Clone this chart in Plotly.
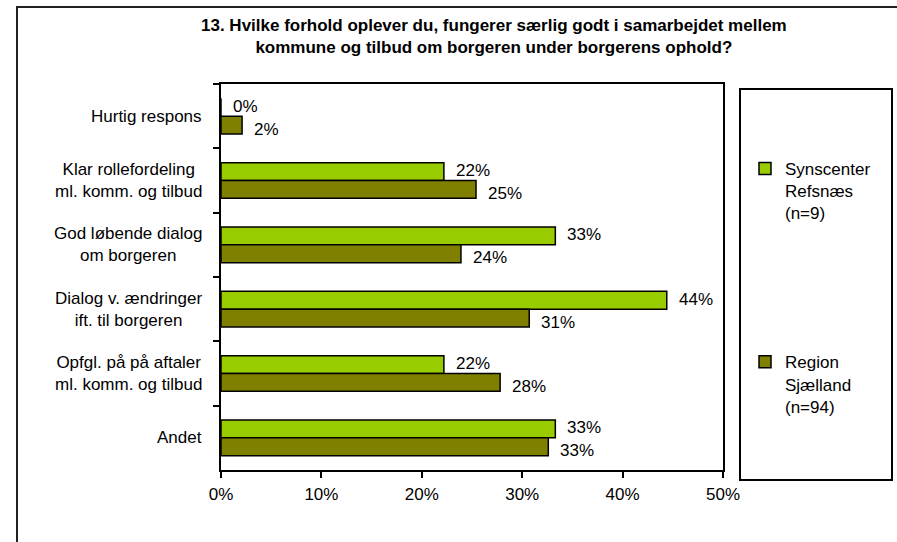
import plotly.graph_objects as go

categories = [
    "Hurtig respons",
    "Klar rollefordeling<br>ml. komm. og tilbud",
    "God løbende dialog<br>om borgeren",
    "Dialog v. ændringer<br>ift. til borgeren",
    "Opfgl. på på aftaler<br>ml. komm. og tilbud",
    "Andet",
]
synscenter = [0.0, 22.2, 33.3, 44.4, 22.2, 33.3]
region = [2.1, 25.4, 23.9, 30.7, 27.8, 32.6]
series_names = ["Synscenter<br>Refsnæs<br>(n=9)", "Region<br>Sjælland<br>(n=94)"]
x_ticks = [0, 10, 20, 30, 40, 50]
title_text = ("13. Hvilke forhold oplever du, fungerer særlig godt i samarbejdet mellem<br>"
              "kommune og tilbud om borgeren under borgerens ophold?")

FONT = "Liberation Sans, Arial, sans-serif"
GREEN = "#99CC00"
OLIVE = "#808000"

W, H = 897, 542
PL, PT, PW, PH = 221, 84, 502, 386  # plot area in pixels


def px_x(px):
    return (px - PL) / PW


def px_y(py):
    return (PT + PH - py) / PH


fig = go.Figure()
for name, vals, col, grp in [(series_names[0], synscenter, GREEN, "a"),
                             (series_names[1], region, OLIVE, "b")]:
    fig.add_trace(go.Bar(
        y=categories, x=vals, orientation="h", name=name,
        marker=dict(color=col, line=dict(color="black", width=1.5)),
        legendgroup=grp, hoverinfo="skip",
    ))

annotations = [dict(
    x=px_x(494), xref="paper", y=px_y(36), yref="paper",
    text=f"<b>{title_text}</b>", showarrow=False,
    xanchor="center", yanchor="middle", align="center",
    font=dict(family=FONT, size=17, color="black"),
)]
for c in categories:
    annotations.append(dict(
        x=px_x(204), xref="paper", y=c, yref="y", text=c, showarrow=False,
        xanchor="right", yanchor="middle", align="center",
        font=dict(family=FONT, size=17, color="black"),
    ))
for vals, ysh in [(synscenter, 10), (region, -13)]:
    for c, v in zip(categories, vals):
        annotations.append(dict(
            x=v, xref="x", y=c, yref="y", text=f"{round(v):.0f}%",
            showarrow=False, xanchor="left", yanchor="middle",
            xshift=10, yshift=ysh,
            font=dict(family=FONT, size=17, color="black"),
        ))

fig.update_layout(
    width=W, height=H,
    margin=dict(l=PL, r=W - (PL + PW), t=PT, b=H - (PT + PH)),
    paper_bgcolor="white", plot_bgcolor="white",
    barmode="group", bargap=0.446, bargroupgap=0,
    font=dict(family=FONT, size=17, color="black"),
    xaxis=dict(
        range=[0, 50], tickvals=x_ticks, ticktext=[f"{t}%" for t in x_ticks],
        showgrid=False, zeroline=False,
        showline=True, linecolor="black", linewidth=2, mirror=True,
        ticks="outside", ticklen=6, tickcolor="black", tickwidth=2,
        ticklabelstandoff=2,
        tickfont=dict(family=FONT, size=17, color="black"),
    ),
    yaxis=dict(
        categoryorder="array", categoryarray=categories,
        autorange="reversed", showticklabels=False,
        showgrid=False, zeroline=False,
        showline=True, linecolor="black", linewidth=2, mirror=True,
        ticks="outside", tickson="boundaries", ticklen=6,
        tickcolor="black", tickwidth=2,
    ),
    showlegend=True,
    legend=dict(
        x=px_x(745), xanchor="left", y=px_y(151), yanchor="top",
        traceorder="grouped", tracegroupgap=124, valign="top",
        font=dict(family=FONT, size=17, color="black"),
        bgcolor="rgba(0,0,0,0)",
    ),
    annotations=annotations,
    shapes=[
        dict(type="rect", xref="paper", yref="paper",
             x0=px_x(740), x1=px_x(892), y0=px_y(480), y1=px_y(89),
             line=dict(color="black", width=2), layer="above"),
        dict(type="rect", xref="paper", yref="paper",
             x0=px_x(17), x1=px_x(960), y0=px_y(620), y1=px_y(7),
             line=dict(color="#222222", width=2), layer="above"),
    ],
)

fig.write_html(
    "out.html",
    config={"displayModeBar": False},
    post_script="document.body.style.margin='0';document.body.style.overflow='hidden';",
)
